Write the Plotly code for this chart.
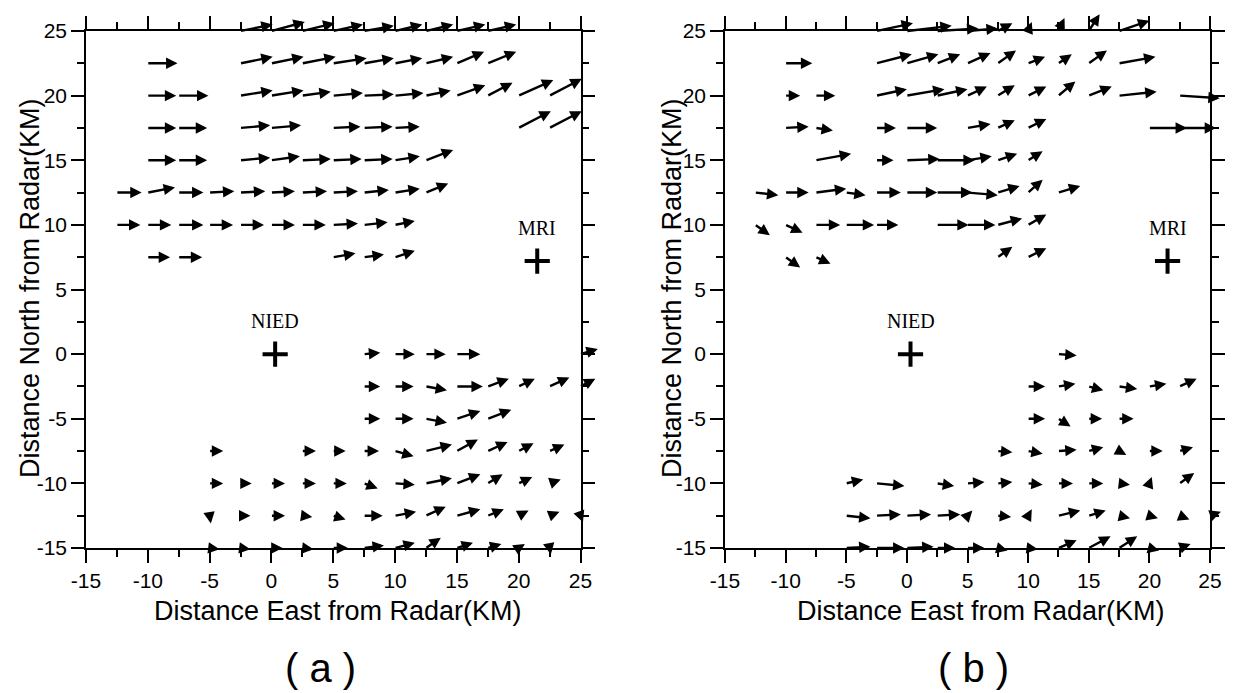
import plotly.graph_objects as go

# ---------------- data ----------------
# Panel (a): rows of wind vectors (tail at grid point, components in km)
A_ROWS_Y = [25, 22.5, 20, 17.5, 15, 12.5, 10, 7.5, 0, -2.5, -5, -7.5, -10, -12.5, -15]
A_ROWS_X = [
    [-2.5, 0, 2.5, 5, 7.5, 10, 12.5, 15, 17.5],
    [-10, -2.5, 0, 2.5, 5, 7.5, 10, 12.5, 15, 17.5],
    [-10, -7.5, -2.5, 0, 2.5, 5, 7.5, 10, 12.5, 15, 17.5, 20, 22.5],
    [-10, -7.5, -2.5, 0, 5, 7.5, 10, 20, 22.5],
    [-10, -7.5, -2.5, 0, 2.5, 5, 7.5, 10, 12.5],
    [-12.5, -10, -7.5, -5, -2.5, 0, 2.5, 5, 7.5, 10, 12.5],
    [-12.5, -10, -7.5, -5, -2.5, 0, 2.5, 5, 7.5, 10],
    [-10, -7.5, 5, 7.5, 10],
    [7.5, 10, 12.5, 15, 25],
    [7.5, 10, 12.5, 15, 17.5, 20, 22.5, 25],
    [7.5, 10, 12.5, 15, 17.5],
    [-5, 2.5, 5, 7.5, 10, 12.5, 15, 17.5, 20, 22.5],
    [-5, -2.5, 0, 2.5, 5, 7.5, 10, 12.5, 15, 17.5, 20, 22.5],
    [-5, -2.5, 0, 2.5, 5, 7.5, 10, 12.5, 15, 17.5, 20, 22.5, 25],
    [-5, -2.5, 0, 2.5, 5, 7.5, 10, 12.5, 15, 17.5, 20, 22.5],
]
A_ROWS_U = [
    [2.6, 2.7, 2.6, 2.4, 2.4, 2.2, 2.2, 2.3, 2.3],
    [2.4, 2.6, 2.6, 2.7, 2.7, 2.4, 2.2, 2.2, 2.2, 2.3],
    [2.3, 2.4, 2.6, 2.6, 2.3, 2.4, 2.4, 2.3, 2.0, 2.3, 2.0, 2.8, 2.6],
    [2.3, 2.3, 2.4, 2.4, 2.2, 2.3, 2.0, 2.6, 2.6],
    [2.3, 2.3, 2.4, 2.3, 2.3, 2.3, 2.3, 2.0, 2.2],
    [2.0, 2.2, 2.0, 2.0, 2.0, 1.9, 2.0, 2.0, 2.0, 2.0, 1.8],
    [1.9, 1.9, 2.0, 1.9, 1.9, 1.9, 1.9, 2.0, 1.9, 1.6],
    [1.8, 1.9, 1.8, 1.6, 1.6],
    [1.3, 1.6, 1.6, 1.9, 1.4],
    [1.3, 1.5, 1.7, 2.1, 1.7, 1.3, 1.6, 1.2],
    [1.3, 1.5, 1.7, 1.9, 1.9],
    [1.1, 1.1, 1.0, 1.2, 1.5, 2.1, 1.7, 1.6, 1.2, 1.2],
    [1.1, 0.9, 1.1, 1.1, 1.1, 1.1, 1.6, 2.1, 1.9, 1.2, 1.1, 0.9],
    [0.1, 0.8, 1.1, 0.8, 1.0, 1.5, 1.7, 1.6, 1.9, 1.3, 0.8, 0.8, 0.2],
    [0.8, 0.8, 0.9, 0.9, 1.2, 1.6, 1.6, 1.2, 1.3, 1.1, 0.5, 0.1],
]
A_ROWS_V = [
    [0.5, 0.7, 0.6, 0.5, 0.4, 0.5, 0.5, 0.5, 0.5],
    [0, 0.5, 0.5, 0.5, 0.4, 0.4, 0.4, 0.5, 0.9, 0.9],
    [0, 0, 0.4, 0.4, 0.3, 0.2, 0.1, 0.2, 0.4, 0.8, 1.0, 1.2, 1.3],
    [0, 0, 0.2, 0.2, 0.1, 0.1, 0.1, 1.3, 1.3],
    [0, 0, 0.2, 0.3, 0.1, 0.1, 0.1, 0.3, 0.8],
    [0, 0.4, 0, 0.1, 0.1, 0.1, 0.1, 0.1, 0.2, 0.3, 0.7],
    [0, 0, 0, 0, 0, 0, 0, 0.1, 0.2, 0.3],
    [0, 0, 0.3, 0.2, 0.5],
    [0.1, 0, 0, 0, 0.4],
    [0, 0, -0.3, 0, 0.6, 0.6, 0.7, 0.6],
    [0, 0, -0.3, 0.6, 0.7],
    [0, 0, 0, 0, -0.4, 0.5, 0.9, 0.7, 0.6, 0.5],
    [0, 0, 0, 0, 0, -0.4, -0.1, 0.4, 0.7, 0.7, 0.5, 0.3],
    [-0.6, 0, 0, -0.1, -0.3, 0, 0.3, 0.7, 0.5, 0.5, 0.4, 0.3, -0.5],
    [-0.1, -0.1, 0, -0.1, 0, 0.2, 0.4, 0.8, 0.4, 0.3, 0.3, -0.5],
]

# Panel (b)
B_ROWS_Y = [25, 22.5, 20, 17.5, 15, 12.5, 10, 7.5, 0, -2.5, -5, -7.5, -10, -12.5, -15]
B_ROWS_X = [
    [-2.5, 0, 2.5, 5, 7.5, 10, 12.5, 15, 17.5],
    [-10, -2.5, 0, 2.5, 5, 7.5, 10, 12.5, 15, 17.5],
    [-10, -7.5, -2.5, 0, 2.5, 5, 7.5, 10, 12.5, 15, 17.5, 22.5],
    [-10, -7.5, -2.5, 0, 5, 7.5, 10, 20, 22.5],
    [-7.5, -2.5, 0, 2.5, 5, 7.5, 10],
    [-12.5, -10, -7.5, -5, -2.5, 0, 2.5, 5, 7.5, 10, 12.5],
    [-12.5, -10, -7.5, -5, -2.5, 2.5, 5, 7.5, 10],
    [-10, -7.5, 7.5, 10],
    [12.5],
    [10, 12.5, 15, 17.5, 20, 22.5],
    [10, 12.5, 15, 17.5],
    [7.5, 10, 12.5, 15, 17.5, 20, 22.5],
    [-5, -2.5, 2.5, 5, 7.5, 10, 12.5, 15, 17.5, 20, 22.5],
    [-5, -2.5, 0, 2.5, 5, 7.5, 10, 12.5, 15, 17.5, 20, 22.5, 25],
    [-5, -2.5, 0, 2.5, 5, 7.5, 10, 12.5, 15, 17.5, 20, 22.5],
]
B_ROWS_U = [
    [3.0, 3.7, 3.4, 2.5, 1.2, 0.3, 0.5, 0.9, 2.5],
    [2.2, 2.9, 2.6, 1.9, 1.9, 1.5, 1.4, 1.1, 1.5, 3.0],
    [1.2, 1.6, 2.5, 3.1, 2.5, 1.6, 1.4, 1.5, 1.4, 1.9, 3.1, 3.3],
    [1.9, 1.4, 1.6, 2.5, 1.9, 1.4, 1.5, 3.1, 3.0],
    [2.9, 1.4, 2.7, 3.1, 2.0, 1.6, 1.2],
    [1.9, 1.9, 2.5, 1.6, 2.0, 2.5, 2.9, 2.5, 1.8, 1.2, 1.8],
    [1.2, 1.4, 2.0, 2.3, 1.8, 2.6, 2.3, 2.0, 1.5],
    [1.2, 1.2, 1.2, 1.5],
    [1.5],
    [1.4, 1.4, 1.2, 1.5, 1.4, 1.4],
    [1.4, 1.0, 1.1, 1.2],
    [1.2, 1.2, 1.5, 1.2, 0.6, 1.1, 1.1],
    [1.4, 2.3, 1.4, 1.4, 1.2, 1.2, 1.2, 1.2, 0.9, 0.2, 1.2],
    [2.0, 2.0, 2.0, 1.9, 0.4, 1.1, 0.3, 1.8, 1.4, 0.9, 0.7, 0.8, 0.9],
    [2.0, 2.3, 2.2, 1.5, 1.4, 0.8, 0.8, 1.5, 1.8, 1.5, 0.8, 0.9],
]
B_ROWS_V = [
    [0.6, 0.4, 0.2, 0.2, 0.6, 0.7, 1.0, 1.3, 0.8],
    [0, 0.7, 0.7, 0.7, 0.8, 1.0, 0.5, 0.7, 1.0, 0.5],
    [0, 0, 0.5, 0.5, 0.5, 0.7, 0.8, 0.7, 1.1, 0.7, 0.3, -0.2],
    [0.1, -0.2, 0, 0, 0.3, 0.6, 0.7, 0, 0],
    [0.5, 0, 0.1, 0, 0.3, 0.5, 0.7],
    [-0.2, 0, 0.3, -0.2, 0, 0, 0, -0.2, 0.5, 1.0, 0.5],
    [-0.8, -0.6, 0, 0, 0, 0, 0, 0.5, 0.8],
    [-0.8, -0.5, 0.8, 0.7],
    [-0.1],
    [0, 0.2, -0.3, -0.2, 0.2, 0.6],
    [0, -0.6, 0, 0],
    [-0.1, -0.2, 0.1, 0.3, -0.3, 0, 0.3],
    [0.3, -0.2, -0.2, 0.1, 0.1, -0.1, 0, 0, -0.1, 0.5, 0.8],
    [-0.2, 0.1, 0.1, 0.1, 0.4, -0.1, 0.5, 0.4, 0.4, -0.2, -0.2, -0.3, 0.3],
    [0.1, 0, 0.1, 0, 0, -0.2, -0.1, 0.6, 0.9, 0.9, -0.2, 0.3],
]

SITE_NAMES = ["NIED", "MRI"]
SITE_X = [0.3, 21.5]
SITE_Y = [0.0, 7.2]

X_TICKS = [-15, -10, -5, 0, 5, 10, 15, 20, 25]
Y_TICKS = [-15, -10, -5, 0, 5, 10, 15, 20, 25]
X_TITLE = "Distance East from Radar(KM)"
Y_TITLE = "Distance North from Radar(KM)"
PANEL_LABELS = ["( a )", "( b )"]

# ---------------- figure ----------------
W, H = 1256, 693
M = 30  # fixed margin on every side (larger than any automatic push)
SANS = "Liberation Sans, Arial, Helvetica, sans-serif"
SERIF = "Liberation Serif, Times New Roman, serif"


def px_x(p):
    return (p - M) / (W - 2 * M)


def px_y(p):
    return 1 - (p - M) / (H - 2 * M)


fig = go.Figure()

y_dom = [px_y(548), px_y(31)]
x_doms = [[px_x(86), px_x(580.5)], [px_x(725), px_x(1210)]]

axis_common = dict(
    range=[-15, 25], showgrid=False, zeroline=False, automargin=False,
    showline=True, linecolor="black", linewidth=1.5, mirror="ticks",
    ticks="outside", ticklen=13, tickwidth=1.5, tickcolor="black",
    tickfont=dict(family=SANS, size=21, color="black"),
    minor=dict(dtick=2.5, ticks="outside", ticklen=7, tickwidth=1.5, tickcolor="black"),
    fixedrange=True,
)

layout_axes = {}
for i, dom in enumerate(x_doms):
    sfx = "" if i == 0 else "2"
    layout_axes["xaxis" + sfx] = dict(axis_common, domain=dom, tickvals=X_TICKS,
                                      ticktext=[str(t) for t in X_TICKS],
                                      anchor="y" + sfx)
    layout_axes["yaxis" + sfx] = dict(axis_common, domain=y_dom, tickvals=Y_TICKS,
                                      ticktext=[str(t) for t in Y_TICKS],
                                      anchor="x" + sfx)

fig.update_layout(
    width=W, height=H, margin=dict(l=M, r=M, t=M, b=M, pad=0),
    paper_bgcolor="white", plot_bgcolor="white", showlegend=False,
    **layout_axes,
)

annotations = []


def add_arrows(xref, yref, rows_y, rows_x, rows_u, rows_v):
    for yy, xs, us, vs in zip(rows_y, rows_x, rows_u, rows_v):
        for x0, u, v in zip(xs, us, vs):
            annotations.append(dict(
                x=x0 + u, y=yy + v, ax=x0, ay=yy,
                xref=xref, yref=yref, axref=xref, ayref=yref,
                text="", showarrow=True, arrowhead=2, arrowsize=0.95,
                arrowwidth=2.4, arrowcolor="black", standoff=0, startstandoff=0,
                font=dict(size=1), borderpad=0, borderwidth=0, width=1, height=1,
            ))


add_arrows("x", "y", A_ROWS_Y, A_ROWS_X, A_ROWS_U, A_ROWS_V)
add_arrows("x2", "y2", B_ROWS_Y, B_ROWS_X, B_ROWS_U, B_ROWS_V)

# sites: crosses + labels
for xa, ya in [("x", "y"), ("x2", "y2")]:
    fig.add_trace(go.Scatter(
        x=SITE_X, y=SITE_Y, xaxis=xa, yaxis=ya, mode="markers",
        marker=dict(symbol="cross-thin", size=18, line=dict(width=4, color="black")),
        hoverinfo="skip",
    ))
    for name, sx, sy in zip(SITE_NAMES, SITE_X, SITE_Y):
        annotations.append(dict(
            x=sx, y=sy, xref=xa, yref=ya, text=name, showarrow=False,
            yshift=33, font=dict(family=SERIF, size=20, color="black"),
        ))

# axis titles and panel labels (paper coords computed from pixel positions)
xt_centers = [338, 981]
yt_centers = [30, 672]
lab_centers = [320, 973]
for i in range(2):
    annotations.append(dict(
        x=px_x(xt_centers[i]), y=px_y(611), xref="paper", yref="paper",
        text=X_TITLE, showarrow=False, xanchor="center", yanchor="middle",
        font=dict(family=SANS, size=27, color="black"),
    ))
    annotations.append(dict(
        x=px_x(yt_centers[i]), y=px_y(288), xref="paper", yref="paper",
        text=Y_TITLE, showarrow=False, xanchor="center", yanchor="middle",
        textangle=-90, font=dict(family=SANS, size=27, color="black"),
    ))
    annotations.append(dict(
        x=px_x(lab_centers[i]), y=px_y(668), xref="paper", yref="paper",
        text=PANEL_LABELS[i], showarrow=False, xanchor="center", yanchor="middle",
        font=dict(family=SANS, size=40, color="black"),
    ))

fig.update_layout(annotations=annotations)

fig.write_html("out.html")
